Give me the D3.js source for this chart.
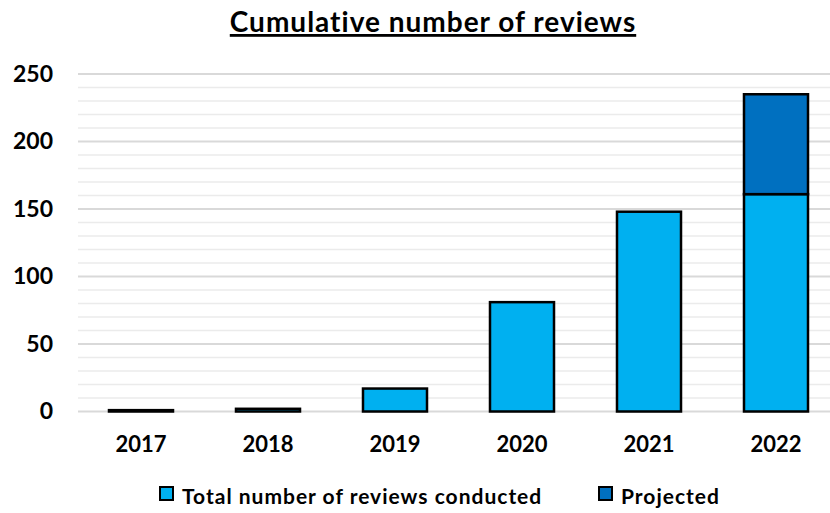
<!DOCTYPE html>
<html>
<head>
<meta charset="utf-8">
<script src="https://cdn.jsdelivr.net/npm/d3@7"></script>
<style>
  body { margin: 0; background: #fff; }
  text { font-family: Lato, "Open Sans", sans-serif; font-weight: 700; fill: #000; }
</style>
</head>
<body>
<script>
//chart data
var years = ["2017", "2018", "2019", "2020", "2021", "2022"];
var conducted = [1, 2, 17, 81, 148, 161];
var projected = [0, 0, 0, 0, 0, 74];
var yTicks = [0, 50, 100, 150, 200, 250];
var seriesNames = ["Total number of reviews conducted", "Projected"];
var seriesColors = ["#00b0f0", "#0070c0"];

window.onload = drawChart();

function drawChart(){
    var width = 830,
        height = 513;

    var svg = d3.select("body")
        .append("svg")
        .attr("width", width)
        .attr("height", height);

    //scales
    var x = d3.scaleBand()
        .domain(years)
        .range([77.5, 839.5])
        .paddingInner(0.496)
        .paddingOuter(0.248);

    var y = d3.scaleLinear()
        .domain([0, 250])
        .range([411.5, 74]);

    //gridlines, minor every 10 and major every 50
    var minor = d3.range(10, 250, 10).filter(function(v){ return v % 50 != 0; });
    svg.selectAll(".minor")
        .data(minor)
        .enter()
        .append("line")
        .attr("class", "minor")
        .attr("x1", 78).attr("x2", width)
        .attr("y1", function(d){ return y(d); })
        .attr("y2", function(d){ return y(d); })
        .attr("stroke", "#ebebeb")
        .attr("stroke-width", 1.5);

    svg.selectAll(".major")
        .data(yTicks)
        .enter()
        .append("line")
        .attr("class", "major")
        .attr("x1", 78).attr("x2", width)
        .attr("y1", function(d){ return y(d); })
        .attr("y2", function(d){ return y(d); })
        .attr("stroke", "#d9d9d9")
        .attr("stroke-width", 1.8);

    //stacked data
    var table = years.map(function(yr, i){
        return { year: yr, conducted: conducted[i], projected: projected[i] };
    });
    var stacked = d3.stack().keys(["conducted", "projected"])(table);

    var layers = svg.selectAll(".layer")
        .data(stacked)
        .enter()
        .append("g")
        .attr("class", "layer")
        .attr("fill", function(d, i){ return seriesColors[i]; });

    layers.selectAll("rect")
        .data(function(d){ return d.filter(function(p){ return p[1] - p[0] > 0; }); })
        .enter()
        .append("rect")
        .attr("x", function(d){ return x(d.data.year); })
        .attr("width", x.bandwidth())
        .attr("y", function(d){ return y(d[1]); })
        .attr("height", function(d){ return y(d[0]) - y(d[1]); })
        .attr("stroke", "#000")
        .attr("stroke-width", 2.5);

    //y axis labels
    var yAxis = d3.axisLeft(y)
        .tickValues(yTicks)
        .tickSize(0)
        .tickPadding(0);
    var yg = svg.append("g")
        .attr("transform", "translate(53,0)")
        .call(yAxis);
    yg.select(".domain").remove();
    yg.selectAll("text")
        .attr("font-size", 23)
        .attr("font-family", "Lato, sans-serif")
        .attr("font-weight", 700)
        .attr("fill", "#000");

    //x axis labels
    var xAxis = d3.axisBottom(x).tickSize(0).tickPadding(0);
    var xg = svg.append("g")
        .attr("transform", "translate(0,436)")
        .call(xAxis);
    xg.select(".domain").remove();
    xg.selectAll("text")
        .attr("font-size", 22)
        .attr("font-family", "Lato, sans-serif")
        .attr("font-weight", 700)
        .attr("fill", "#000");

    //title
    svg.append("text")
        .attr("x", 433)
        .attr("y", 32)
        .attr("text-anchor", "middle")
        .attr("font-size", 28)
        .attr("letter-spacing", 1)
        .style("text-decoration", "underline")
        .text("Cumulative number of reviews");

    //legend
    var legendX = [160, 599];
    var legend = svg.selectAll(".legend")
        .data(seriesNames)
        .enter()
        .append("g")
        .attr("class", "legend")
        .attr("transform", function(d, i){ return "translate(" + legendX[i] + ",487)"; });

    legend.append("rect")
        .attr("width", 13)
        .attr("height", 13)
        .attr("fill", function(d, i){ return seriesColors[i]; })
        .attr("stroke", "#000")
        .attr("stroke-width", 2);

    legend.append("text")
        .attr("x", 22)
        .attr("y", 17)
        .attr("font-size", 21)
        .attr("letter-spacing", 1)
        .text(function(d){ return d; });
};
</script>
</body>
</html>
